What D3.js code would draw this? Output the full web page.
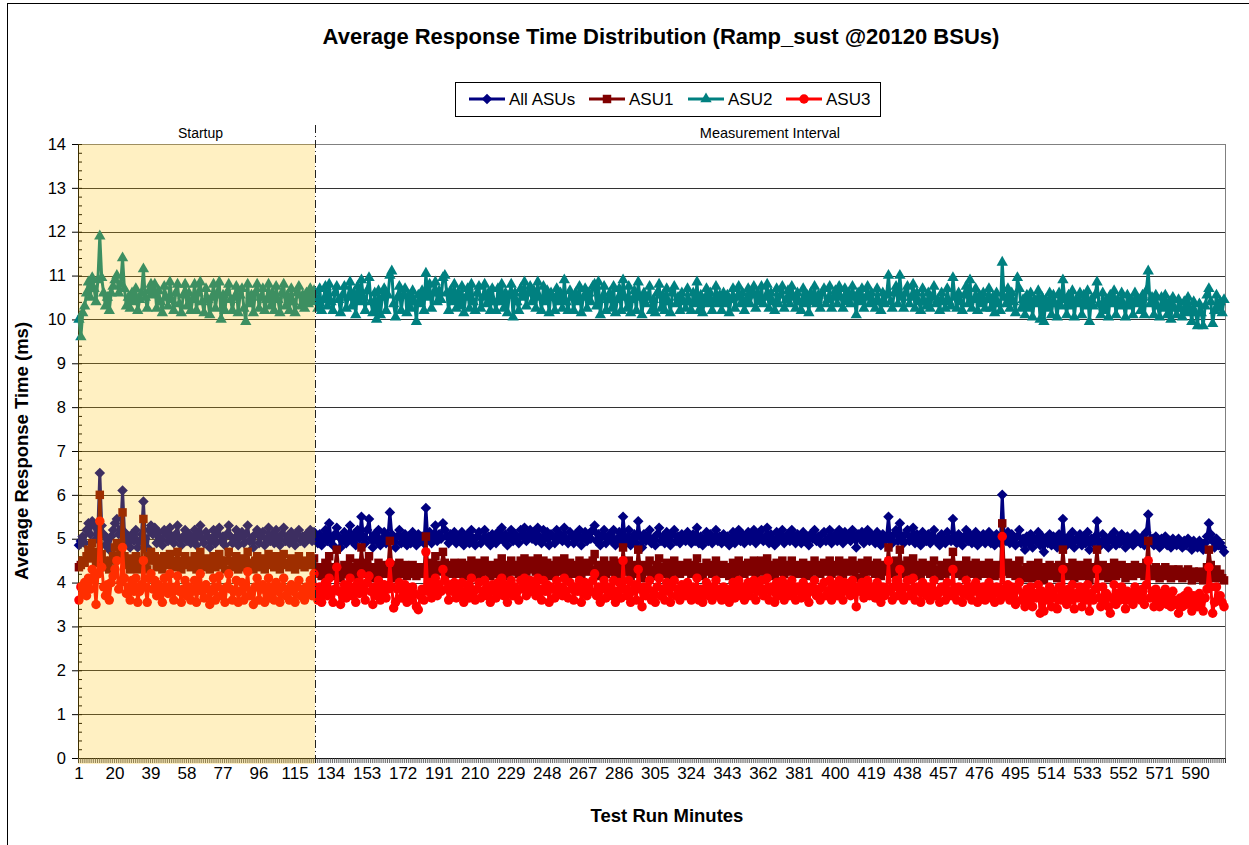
<!DOCTYPE html>
<html>
<head>
<meta charset="utf-8">
<script src="https://cdn.jsdelivr.net/npm/d3@7"></script>
<style>
body { margin: 0; background: #fff; }
svg text { font-family: "Liberation Sans", Arial, sans-serif; fill: #000; }
</style>
</head>
<body>
<div id="viz"></div>
<script>
// average response time per minute (ms)
const allAsus = [
4.85,4.95,5.05,4.9,5.2,5.35,5.1,5.4,5.3,5.0,5.25,6.5,5.3,5.1,4.85,5.0,4.75,5.05,5.2,5.35,
5.45,5.1,5.2,6.1,5.15,4.9,5.05,4.8,5.1,4.95,5.2,4.8,4.95,5.1,5.85,5.0,4.8,5.2,5.3,5.1,
5.25,4.9,5.15,5.0,4.85,5.2,5.1,4.95,5.25,5.05,4.9,5.1,5.3,5.0,4.85,5.05,5.2,4.95,5.1,4.9,
5.0,5.2,4.85,5.1,5.3,5.0,4.9,5.15,5.05,4.8,5.0,5.2,4.9,5.1,5.25,4.95,5.05,4.85,5.1,5.3,
5.05,4.9,5.0,5.2,4.85,5.05,5.15,4.9,5.1,5.3,4.95,5.0,4.8,5.1,5.2,4.9,5.05,5.15,4.85,5.0,
5.25,4.95,5.1,4.9,5.2,5.0,4.85,5.1,5.25,4.95,5.05,4.9,5.15,5.0,4.85,5.1,5.2,4.95,5.05,4.9,
5.1,5.0,5.2,4.95,5.15,5.05,4.9,5.1,4.85,5.0,5.2,4.95,5.35,5.0,4.85,5.1,5.25,5.05,4.8,5.0,
5.15,4.9,5.05,5.3,4.95,5.1,4.85,5.2,5.0,5.5,5.05,4.9,5.2,5.45,5.0,4.8,5.1,4.95,5.2,4.85,
5.0,5.15,4.9,5.05,5.6,5.1,4.95,4.8,5.05,5.2,4.9,5.0,5.1,4.85,5.05,4.9,5.15,5.0,4.85,5.1,
4.95,5.05,4.9,5.7,5.0,5.15,4.9,5.05,5.3,4.95,5.1,5.0,5.35,5.2,5.05,4.9,5.1,5.0,5.15,4.9,
5.05,4.95,5.15,4.85,5.0,5.1,4.9,5.2,5.0,4.85,5.05,5.15,4.9,5.0,5.2,4.95,5.05,4.85,5.1,5.0,
4.9,5.15,5.0,5.25,4.95,5.1,4.85,5.05,5.2,4.95,5.1,5.0,4.9,5.2,5.05,5.25,4.95,5.1,5.2,5.0,
5.15,4.95,5.25,5.05,4.9,5.2,5.0,5.15,4.85,5.1,5.05,4.9,5.2,5.0,5.1,4.95,5.25,5.0,4.9,5.15,
5.05,4.9,5.1,5.0,5.2,4.85,5.05,5.15,4.95,5.1,5.0,5.2,5.3,4.95,5.1,4.85,5.05,5.2,4.9,5.0,
5.1,4.95,5.2,4.85,5.0,5.15,4.9,5.5,5.05,4.95,5.2,4.85,5.0,5.1,4.9,5.4,5.05,4.8,5.1,4.95,
5.05,5.2,4.9,5.0,4.85,5.1,5.25,4.95,5.05,4.9,5.15,5.0,4.85,5.1,5.2,4.95,5.05,4.9,5.1,5.0,
4.95,5.15,5.0,4.9,5.1,4.95,5.25,4.9,5.05,4.85,5.0,5.15,4.95,5.1,4.9,5.0,5.2,4.95,5.05,4.9,
5.1,4.95,5.05,4.85,5.0,5.15,4.9,5.05,5.2,4.95,5.1,4.9,5.0,5.15,4.95,5.05,5.2,4.9,5.1,5.0,
5.2,4.95,5.05,5.25,4.9,5.1,5.0,4.85,5.15,4.95,5.05,5.2,4.9,5.0,5.1,4.95,5.2,5.05,4.9,5.1,
5.0,4.9,5.15,4.95,5.05,4.85,5.1,5.0,5.2,4.95,5.05,4.9,5.1,5.15,4.95,5.0,5.2,4.9,5.05,5.1,
4.95,5.2,5.05,4.9,5.15,5.0,5.1,4.95,5.2,5.05,4.8,5.1,5.0,5.15,4.9,5.05,5.2,4.95,5.1,5.0,
4.9,5.15,5.0,4.85,5.1,4.95,5.05,5.5,5.0,4.9,5.1,5.2,4.95,5.35,5.05,4.9,5.1,5.2,4.95,5.05,
5.25,4.9,5.1,5.0,4.85,5.15,5.0,4.95,5.1,4.9,5.05,5.2,4.95,5.0,4.85,5.1,5.0,4.9,5.15,5.0,
4.95,5.45,5.05,4.9,5.1,5.0,4.85,5.05,5.2,4.95,5.1,4.9,5.0,5.15,4.85,5.05,4.95,5.1,4.9,5.0,
5.15,4.9,5.05,4.85,5.1,5.0,4.9,6.0,5.05,4.95,5.15,4.9,5.1,5.0,4.85,5.05,5.2,4.9,5.0,4.75,
5.05,4.9,5.1,4.8,5.0,4.95,5.15,4.85,5.05,4.7,5.0,4.9,5.1,4.85,5.05,4.95,4.8,5.1,4.9,5.45,
5.0,4.85,5.05,4.9,5.15,4.8,5.0,4.95,5.1,4.85,5.05,4.9,5.15,4.75,5.0,4.9,5.05,5.4,4.95,4.85,
5.1,4.9,5.0,4.8,5.05,4.95,5.15,4.85,5.0,4.9,5.1,4.95,4.8,5.05,4.9,5.0,4.85,5.1,4.95,5.0,
4.9,5.05,4.85,5.15,5.55,4.95,5.0,4.85,5.05,4.9,4.8,5.0,4.9,5.05,4.85,4.95,4.8,5.0,4.9,4.85,
5.0,4.9,4.8,4.95,4.85,5.0,4.9,4.75,4.95,4.85,4.8,4.95,4.85,4.75,4.9,5.05,5.35,5.1,4.95,4.8,
5.0,4.85,4.9,4.8,4.7
];

const asu1 = [
4.35,4.4,4.5,4.45,4.6,4.75,4.55,4.9,4.7,4.45,4.6,6.0,4.65,4.5,4.35,4.45,4.3,4.5,4.6,4.8,
4.9,4.55,4.65,5.6,4.6,4.4,4.5,4.3,4.55,4.4,4.6,4.3,4.45,4.5,5.45,4.45,4.3,4.6,4.7,4.5,
4.6,4.35,4.55,4.45,4.3,4.6,4.5,4.4,4.65,4.45,4.35,4.5,4.7,4.45,4.3,4.5,4.6,4.4,4.5,4.35,
4.45,4.6,4.3,4.5,4.7,4.45,4.35,4.55,4.45,4.3,4.45,4.6,4.35,4.5,4.65,4.4,4.5,4.3,4.5,4.7,
4.5,4.35,4.45,4.6,4.3,4.45,4.55,4.35,4.5,4.7,4.4,4.45,4.3,4.5,4.6,4.35,4.45,4.55,4.3,4.45,
4.65,4.4,4.5,4.35,4.6,4.45,4.3,4.5,4.65,4.4,4.45,4.35,4.55,4.45,4.3,4.5,4.6,4.4,4.45,4.35,
4.5,4.45,4.6,4.4,4.55,4.3,4.2,4.35,4.15,4.3,4.45,4.25,4.6,4.3,4.15,4.35,4.75,4.3,4.1,4.25,
4.4,4.2,4.3,4.55,4.25,4.35,4.15,4.45,4.3,4.8,4.35,4.2,4.45,4.6,4.3,4.1,4.35,4.25,4.45,4.2,
4.3,4.4,4.2,4.35,4.95,4.4,4.25,4.1,4.35,4.45,4.2,4.3,4.4,4.15,4.35,4.2,4.4,4.3,4.15,4.35,
4.25,4.35,4.2,5.05,4.3,4.45,4.2,4.35,4.6,4.25,4.4,4.3,4.7,4.45,4.35,4.2,4.4,4.3,4.45,4.2,
4.35,4.25,4.45,4.15,4.3,4.4,4.2,4.5,4.3,4.15,4.35,4.45,4.2,4.3,4.5,4.25,4.35,4.15,4.4,4.3,
4.2,4.45,4.3,4.55,4.25,4.4,4.15,4.35,4.5,4.25,4.4,4.3,4.2,4.5,4.35,4.55,4.25,4.4,4.5,4.3,
4.45,4.25,4.55,4.35,4.2,4.5,4.3,4.45,4.15,4.4,4.35,4.2,4.5,4.3,4.4,4.25,4.55,4.3,4.2,4.45,
4.35,4.2,4.4,4.3,4.5,4.15,4.35,4.45,4.25,4.4,4.3,4.5,4.65,4.25,4.4,4.15,4.35,4.5,4.2,4.3,
4.4,4.25,4.5,4.15,4.3,4.45,4.2,4.8,4.35,4.25,4.5,4.15,4.3,4.4,4.2,4.75,4.35,4.1,4.4,4.25,
4.35,4.5,4.2,4.3,4.15,4.4,4.55,4.25,4.35,4.2,4.45,4.3,4.15,4.4,4.5,4.25,4.35,4.2,4.4,4.3,
4.25,4.45,4.3,4.2,4.4,4.25,4.55,4.2,4.35,4.15,4.3,4.45,4.25,4.4,4.2,4.3,4.5,4.25,4.35,4.2,
4.4,4.25,4.35,4.15,4.3,4.45,4.2,4.35,4.5,4.25,4.4,4.2,4.3,4.45,4.25,4.35,4.5,4.2,4.4,4.3,
4.5,4.25,4.35,4.55,4.2,4.4,4.3,4.15,4.45,4.25,4.35,4.5,4.2,4.3,4.4,4.25,4.5,4.35,4.2,4.4,
4.3,4.2,4.45,4.25,4.35,4.15,4.4,4.3,4.5,4.25,4.35,4.2,4.4,4.45,4.25,4.3,4.5,4.2,4.35,4.4,
4.25,4.5,4.35,4.2,4.45,4.3,4.4,4.25,4.5,4.35,4.1,4.4,4.3,4.45,4.2,4.35,4.5,4.25,4.4,4.3,
4.2,4.45,4.3,4.15,4.4,4.25,4.35,4.8,4.3,4.2,4.4,4.5,4.25,4.75,4.35,4.2,4.4,4.5,4.25,4.35,
4.55,4.2,4.4,4.3,4.15,4.45,4.3,4.25,4.4,4.2,4.35,4.5,4.25,4.3,4.15,4.4,4.3,4.2,4.45,4.3,
4.25,4.7,4.35,4.2,4.4,4.3,4.15,4.35,4.5,4.25,4.4,4.2,4.3,4.45,4.15,4.35,4.25,4.4,4.2,4.3,
4.45,4.2,4.35,4.15,4.4,4.3,4.2,5.35,4.35,4.25,4.45,4.2,4.4,4.3,4.15,4.35,4.5,4.2,4.3,4.1,
4.35,4.2,4.4,4.1,4.3,4.25,4.45,4.15,4.35,4.05,4.3,4.2,4.4,4.15,4.35,4.25,4.1,4.4,4.2,4.75,
4.3,4.15,4.35,4.2,4.45,4.1,4.3,4.25,4.4,4.15,4.35,4.2,4.45,4.05,4.3,4.2,4.35,4.75,4.25,4.15,
4.4,4.2,4.3,4.1,4.35,4.25,4.45,4.15,4.3,4.2,4.4,4.25,4.1,4.35,4.2,4.3,4.15,4.4,4.25,4.3,
4.2,4.35,4.15,4.45,4.95,4.25,4.3,4.15,4.35,4.2,4.1,4.3,4.2,4.35,4.15,4.25,4.1,4.3,4.2,4.15,
4.3,4.2,4.1,4.25,4.15,4.3,4.2,4.05,4.25,4.15,4.1,4.25,4.15,4.05,4.2,4.35,4.75,4.4,4.25,4.1,
4.3,4.15,4.2,4.1,4.05
];

const asu2 = [
10.0,9.6,10.15,10.3,10.6,10.85,10.5,10.95,10.7,10.4,10.9,11.9,10.95,10.6,10.3,10.5,10.2,10.6,10.75,10.9,
11.0,10.6,10.8,11.4,10.7,10.3,10.5,10.25,10.6,10.4,10.7,10.2,10.45,10.6,11.15,10.5,10.25,10.65,10.8,10.55,
10.8,10.25,10.65,10.4,10.15,10.75,10.5,10.3,10.85,10.45,10.2,10.6,10.8,10.35,10.15,10.55,10.8,10.3,10.6,10.2,
10.45,10.8,10.2,10.6,10.85,10.4,10.15,10.7,10.45,10.1,10.5,10.8,10.25,10.6,10.85,10.0,10.55,10.2,10.6,10.8,
10.45,10.2,10.5,10.75,10.15,10.55,10.7,10.25,9.95,10.8,10.35,10.55,10.15,10.6,10.8,10.25,10.5,10.7,10.2,10.45,
10.8,10.3,10.6,10.2,10.75,10.45,10.15,10.6,10.8,10.3,10.55,10.2,10.7,10.4,10.15,10.6,10.75,10.3,10.55,10.25,
10.6,10.35,10.7,10.4,10.65,10.5,10.25,10.7,10.2,10.45,10.75,10.3,10.8,10.4,10.2,10.6,10.75,10.45,10.15,10.55,
10.75,10.25,10.5,10.85,10.3,10.6,10.1,10.75,10.4,10.9,10.5,10.2,10.65,10.95,10.4,10.15,10.6,10.0,10.65,10.1,
10.5,10.7,10.2,10.55,11.0,11.1,10.35,10.05,10.5,10.75,10.2,10.55,10.7,10.15,10.55,10.25,10.65,10.4,9.95,10.55,
10.35,10.65,10.2,11.05,10.5,10.8,10.25,10.6,10.85,10.4,10.65,10.45,10.95,11.0,10.6,10.2,10.65,10.4,10.8,10.25,
10.6,10.3,10.75,10.15,10.5,10.7,10.25,10.8,10.4,10.2,10.6,10.75,10.25,10.5,10.8,10.35,10.6,10.2,10.7,10.4,
10.2,10.7,10.4,10.8,10.25,10.6,10.15,10.55,10.8,10.05,10.6,10.4,10.2,10.7,10.5,10.85,10.3,10.6,10.75,10.4,
10.65,10.25,10.85,10.5,10.2,10.75,10.4,10.65,10.15,10.6,10.5,10.2,10.7,10.4,10.6,10.25,10.9,10.4,10.2,10.65,
10.5,10.2,10.6,10.4,10.75,10.15,10.5,10.7,10.25,10.6,10.4,10.75,10.8,10.3,10.85,10.1,10.5,10.75,10.2,10.45,
10.6,10.25,10.75,10.15,10.45,10.7,10.2,10.9,10.5,10.25,10.75,10.15,10.45,10.65,10.2,10.85,10.5,10.1,10.6,10.35,
10.5,10.75,10.2,10.45,10.15,10.6,10.8,10.25,10.55,10.2,10.7,10.4,10.15,10.6,10.75,10.35,10.5,10.2,10.6,10.4,
10.25,10.7,10.4,10.2,10.6,10.35,10.85,10.2,10.55,10.15,10.45,10.7,10.35,10.6,10.2,10.45,10.75,10.35,10.55,10.2,
10.6,10.35,10.55,10.15,10.45,10.7,10.25,10.5,10.75,10.35,10.6,10.2,10.45,10.7,10.35,10.55,10.75,10.25,10.6,10.4,
10.75,10.35,10.5,10.8,10.25,10.6,10.4,10.2,10.7,10.35,10.55,10.75,10.25,10.45,10.65,10.35,10.75,10.5,10.25,10.6,
10.4,10.2,10.7,10.35,10.55,10.15,10.6,10.4,10.75,10.35,10.55,10.25,10.6,10.7,10.35,10.45,10.75,10.25,10.5,10.65,
10.35,10.75,10.5,10.25,10.7,10.4,10.6,10.35,10.75,10.5,10.1,10.6,10.4,10.7,10.25,10.5,10.75,10.35,10.6,10.4,
10.25,10.7,10.4,10.2,10.6,10.35,10.55,11.0,10.4,10.25,10.6,10.75,10.35,11.0,10.5,10.25,10.6,10.75,10.35,10.5,
10.8,10.25,10.6,10.4,10.2,10.7,10.4,10.3,10.6,10.25,10.5,10.75,10.35,10.45,10.2,10.6,10.4,10.25,10.7,10.4,
10.3,10.95,10.5,10.25,10.6,10.4,10.2,10.55,10.75,10.35,10.9,10.25,10.45,10.7,10.2,10.55,10.35,10.6,10.25,10.45,
10.7,10.25,10.5,10.15,10.6,10.35,10.2,11.3,10.5,10.35,10.7,10.25,10.6,10.4,10.15,10.95,10.7,10.25,10.45,10.1,
10.55,10.25,10.6,10.05,10.45,10.35,10.65,10.0,10.5,9.95,10.45,10.25,10.6,10.1,10.55,10.35,10.05,10.6,10.3,10.9,
10.45,10.1,10.55,10.3,10.65,10.05,10.45,10.35,10.6,10.1,10.55,10.3,10.65,9.95,10.45,10.3,10.55,10.85,10.35,10.1,
10.6,10.2,10.45,10.05,10.55,10.35,10.65,10.1,10.45,10.3,10.6,10.35,10.05,10.55,10.3,10.45,10.1,10.6,10.35,10.45,
10.2,10.55,10.1,10.65,11.1,10.35,10.5,10.1,10.55,10.3,10.05,10.5,10.25,10.55,10.1,10.4,10.0,10.5,10.25,10.1,
10.45,10.25,10.05,10.4,10.15,10.5,10.25,9.95,10.4,10.15,9.85,10.35,10.15,9.85,10.3,10.55,10.7,10.4,9.9,10.2,
10.55,10.25,10.4,10.15,10.45
];

const asu3 = [
3.6,3.9,3.75,4.0,3.7,4.1,3.85,4.3,4.05,3.5,4.2,5.4,4.35,3.9,3.7,3.95,3.6,4.0,4.15,4.3,
4.5,3.85,4.0,4.8,4.1,3.75,3.9,3.6,4.05,3.8,4.1,3.55,3.8,3.95,4.5,3.9,3.55,4.1,4.2,3.85,
4.05,3.7,3.95,3.8,3.55,4.1,3.9,3.75,4.2,3.85,3.6,3.9,4.15,3.8,3.55,3.85,4.05,3.7,3.9,3.6,
3.8,4.05,3.55,3.9,4.2,3.8,3.65,3.95,3.85,3.5,3.8,4.1,3.6,3.9,4.15,3.7,3.85,3.55,3.9,4.2,
3.85,3.6,3.8,4.05,3.55,3.8,4.0,3.6,3.9,4.25,3.7,3.8,3.5,3.9,4.1,3.6,3.85,3.95,3.55,3.8,
4.1,3.65,3.9,3.6,4.0,3.8,3.55,3.9,4.1,3.7,3.85,3.6,3.95,3.8,3.55,3.9,4.05,3.7,3.85,3.6,
3.9,3.75,4.05,3.7,4.2,3.85,3.6,3.9,3.55,3.8,4.0,3.7,4.1,3.75,3.55,3.85,4.35,3.8,3.5,3.75,
3.95,3.65,3.8,4.1,3.7,3.9,3.55,4.0,3.75,4.2,3.85,3.6,4.0,4.15,3.8,3.5,3.9,3.7,4.05,3.6,
3.8,3.95,3.65,3.85,4.45,3.9,3.42,3.55,3.85,4.0,3.65,3.8,3.95,3.55,3.85,3.6,3.9,3.75,3.45,3.38,
3.7,3.85,3.6,4.7,3.8,4.0,3.65,3.85,4.1,3.7,3.95,3.8,4.3,4.05,3.85,3.6,3.95,3.8,4.0,3.65,
3.9,3.7,4.0,3.55,3.8,3.95,3.65,4.1,3.8,3.6,3.85,4.0,3.65,3.8,4.05,3.7,3.9,3.55,3.95,3.8,
3.65,4.0,3.8,4.1,3.7,3.95,3.55,3.85,4.05,3.7,3.9,3.8,3.6,4.05,3.85,4.1,3.7,3.95,4.05,3.8,
4.0,3.7,4.1,3.85,3.6,4.05,3.8,3.95,3.55,3.9,3.85,3.65,4.05,3.8,3.9,3.7,4.1,3.8,3.65,4.0,
3.85,3.6,3.9,3.8,4.05,3.55,3.85,4.0,3.7,3.9,3.8,4.05,4.2,3.7,3.9,3.55,3.85,4.05,3.65,3.8,
3.9,3.7,4.05,3.55,3.8,4.0,3.65,4.5,3.85,3.7,4.05,3.55,3.8,3.95,3.6,4.3,3.85,3.45,3.9,3.7,
3.85,4.05,3.6,3.8,3.55,3.9,4.1,3.7,3.85,3.6,4.0,3.8,3.55,3.9,4.05,3.7,3.85,3.6,3.95,3.8,
3.7,4.0,3.8,3.6,3.9,3.7,4.1,3.6,3.85,3.55,3.8,4.0,3.7,3.9,3.6,3.8,4.05,3.7,3.85,3.6,
3.9,3.7,3.85,3.55,3.8,4.0,3.65,3.85,4.05,3.7,3.9,3.6,3.8,4.0,3.7,3.85,4.05,3.6,3.9,3.8,
4.05,3.7,3.85,4.1,3.6,3.9,3.8,3.55,4.0,3.7,3.85,4.05,3.6,3.8,3.95,3.7,4.05,3.85,3.6,3.9,
3.8,3.65,4.0,3.7,3.85,3.55,3.9,3.8,4.05,3.7,3.85,3.6,3.9,4.0,3.7,3.8,4.05,3.6,3.85,3.95,
3.7,4.05,3.85,3.6,4.0,3.8,3.9,3.7,4.05,3.85,3.45,3.9,3.8,4.0,3.65,3.85,4.05,3.7,3.9,3.8,
3.65,4.0,3.8,3.55,3.9,3.7,3.85,4.5,3.8,3.6,3.9,4.05,3.7,4.3,3.85,3.6,3.9,4.05,3.7,3.85,
4.1,3.6,3.9,3.8,3.55,4.0,3.8,3.7,3.9,3.6,3.85,4.05,3.7,3.8,3.55,3.9,3.8,3.6,4.0,3.8,
3.7,4.3,3.85,3.6,3.9,3.8,3.55,3.85,4.05,3.7,3.9,3.6,3.8,4.0,3.55,3.85,3.7,3.9,3.6,3.8,
4.0,3.65,3.85,3.55,3.9,3.75,3.6,5.05,3.85,3.7,3.95,3.6,3.9,3.75,3.5,3.85,4.0,3.6,3.75,3.45,
3.85,3.6,3.9,3.45,3.75,3.65,3.95,3.3,3.8,3.35,3.75,3.6,3.9,3.45,3.8,3.65,3.4,3.9,3.6,4.3,
3.75,3.5,3.85,3.6,3.95,3.4,3.75,3.65,3.9,3.45,3.8,3.6,3.95,3.35,3.75,3.6,3.85,4.3,3.65,3.45,
3.9,3.6,3.75,3.45,3.3,3.65,3.95,3.5,3.75,3.6,3.9,3.65,3.4,3.8,3.6,3.75,3.5,3.9,3.65,3.8,
3.6,3.85,3.5,3.95,4.5,3.65,3.8,3.45,3.85,3.6,3.45,3.75,3.6,3.85,3.5,3.7,3.45,3.8,3.6,3.5,
3.3,3.65,3.45,3.7,3.5,3.8,3.6,3.35,3.7,3.55,3.45,3.75,3.6,3.35,3.65,3.85,4.35,3.9,3.3,3.55,
3.9,3.6,3.7,3.55,3.45
];

const seriesNames = ["All ASUs", "ASU1", "ASU2", "ASU3"];
const seriesColors = ["#000080", "#800000", "#008080", "#ff0000"];
const startupMinutes = 125;
const yTicks = d3.range(0, 15);
const labelEvery = 19;

const margin = {top: 144, right: 24, bottom: 87, left: 78},
    width = 1249 - margin.left - margin.right,
    height = 845 - margin.top - margin.bottom;

const n = allAsus.length;
const minutes = d3.range(1, n + 1);

const svgRoot = d3.select("#viz")
    .append("svg")
    .attr("width", 1249)
    .attr("height", 845);

// outer chart frame (cut off at the right and bottom, like the original)
svgRoot.append("rect")
    .attr("x", 7.5).attr("y", 3.5)
    .attr("width", 1300).attr("height", 900)
    .attr("fill", "none")
    .attr("stroke", "#000");

const svg = svgRoot.append("g")
    .attr("transform", "translate(" + margin.left + "," + margin.top + ")");

const xScale = d3.scaleBand()
    .domain(minutes)
    .range([0, width])
    .padding(0);

const xEdge = d3.scaleLinear()
    .domain([0, n])
    .range([0, width]);

const yScale = d3.scaleLinear()
    .domain([0, 14])
    .range([height, 0]);

const cx = m => xScale(m) + xScale.bandwidth() / 2;

// gridlines
svg.append("g")
    .selectAll("line")
    .data(yTicks.filter(d => d > 0 && d < 14))
    .enter().append("line")
    .attr("x1", 0).attr("x2", width)
    .attr("y1", d => Math.round(yScale(d)) + 0.5)
    .attr("y2", d => Math.round(yScale(d)) + 0.5)
    .attr("stroke", "#333")
    .attr("stroke-width", 1);

svg.append("rect")
    .attr("x", 0.5).attr("y", 0.5)
    .attr("width", width).attr("height", height)
    .attr("fill", "none")
    .attr("stroke", "#808080");

// y axis: major ticks outside, minor ticks inside
const yAxisG = svg.append("g")
    .call(d3.axisLeft(yScale).tickValues(yTicks).tickSize(6).tickPadding(6));
yAxisG.select(".domain").attr("stroke", "#000");
yAxisG.selectAll("text").style("font-size", "16.5px");

svg.append("g")
    .call(d3.axisRight(yScale).tickValues(d3.range(0, 14.01, 0.2)).tickSize(4).tickFormat(""))
    .select(".domain").remove();

// x axis: a tick between every minute, labels every 19 minutes
svg.append("g")
    .attr("transform", "translate(0," + height + ")")
    .call(d3.axisBottom(xEdge).tickValues(d3.range(0, n + 1)).tickSize(5).tickFormat(""))
    .call(g => g.selectAll(".tick line").attr("stroke", "#444").attr("stroke-width", 0.8))
    .select(".domain").attr("stroke", "#000");

const xLabels = svg.append("g")
    .attr("transform", "translate(0," + height + ")")
    .call(d3.axisBottom(xScale).tickValues(minutes.filter(m => (m - 1) % labelEvery === 0)).tickSize(0).tickPadding(9));
xLabels.select(".domain").remove();
xLabels.selectAll("text").style("font-size", "17px");

// series
const allSeries = [allAsus, asu1, asu2, asu3];
const symbols = [
    d3.symbol().type(d3.symbolSquare).size(56),
    d3.symbol().type(d3.symbolSquare).size(72),
    d3.symbol().type(d3.symbolTriangle).size(56),
    d3.symbol().type(d3.symbolCircle).size(70)
];
const rotations = [45, 0, 0, 0];

const line = d3.line()
    .x((d, i) => cx(minutes[i]))
    .y(d => yScale(d));

allSeries.forEach((values, k) => {
    const g = svg.append("g");
    g.append("path")
        .datum(values)
        .attr("d", line)
        .attr("fill", "none")
        .attr("stroke", seriesColors[k])
        .attr("stroke-width", 3)
        .attr("stroke-linejoin", "round");
    g.selectAll("path.mark")
        .data(values)
        .enter().append("path")
        .attr("class", "mark")
        .attr("d", symbols[k])
        .attr("transform", (d, i) => "translate(" + cx(minutes[i]) + "," + yScale(d) + ") rotate(" + rotations[k] + ")")
        .attr("fill", seriesColors[k]);
});

// startup shading over the first minutes
const startX = xEdge(startupMinutes);
svg.append("rect")
    .attr("x", 0).attr("y", 0)
    .attr("width", startX)
    .attr("height", height + 6)
    .attr("fill", "rgb(255,192,0)")
    .attr("fill-opacity", 0.24);

svg.append("line")
    .attr("x1", Math.round(startX) + 0.5).attr("x2", Math.round(startX) + 0.5)
    .attr("y1", -19).attr("y2", height + 6)
    .attr("stroke", "#222")
    .attr("stroke-dasharray", "8,3,1,3");

svg.append("text")
    .attr("x", startX / 2 + 4).attr("y", -6)
    .attr("text-anchor", "middle")
    .style("font-size", "14px")
    .text("Startup");

svg.append("text")
    .attr("x", (startX + width) / 2).attr("y", -6)
    .attr("text-anchor", "middle")
    .style("font-size", "14.5px")
    .text("Measurement Interval");

// titles
svgRoot.append("text")
    .attr("x", 661).attr("y", 44)
    .attr("text-anchor", "middle")
    .style("font-size", "22px")
    .style("font-weight", "bold")
    .text("Average Response Time Distribution (Ramp_sust @20120 BSUs)");

svgRoot.append("text")
    .attr("x", 667).attr("y", 822)
    .attr("text-anchor", "middle")
    .style("font-size", "18.5px")
    .style("font-weight", "bold")
    .text("Test Run Minutes");

svgRoot.append("text")
    .attr("transform", "translate(28," + (margin.top + height / 2) + ") rotate(-90)")
    .attr("text-anchor", "middle")
    .style("font-size", "18.5px")
    .style("font-weight", "bold")
    .text("Average Response Time (ms)");

// legend
const legend = svgRoot.append("g").attr("transform", "translate(455,82)");
legend.append("rect")
    .attr("x", 0.5).attr("y", 0.5)
    .attr("width", 425).attr("height", 34)
    .attr("fill", "#fff")
    .attr("stroke", "#000");

const legendX = [14, 134, 233, 331];
seriesNames.forEach((name, k) => {
    const item = legend.append("g").attr("transform", "translate(" + legendX[k] + ",17)");
    item.append("line")
        .attr("x1", 0).attr("x2", 36)
        .attr("stroke", seriesColors[k])
        .attr("stroke-width", 3);
    item.append("path")
        .attr("d", symbols[k])
        .attr("transform", "translate(18,0) rotate(" + rotations[k] + ")")
        .attr("fill", seriesColors[k]);
    item.append("text")
        .attr("x", 40).attr("y", 6)
        .style("font-size", "17px")
        .text(name);
});
</script>
</body>
</html>
